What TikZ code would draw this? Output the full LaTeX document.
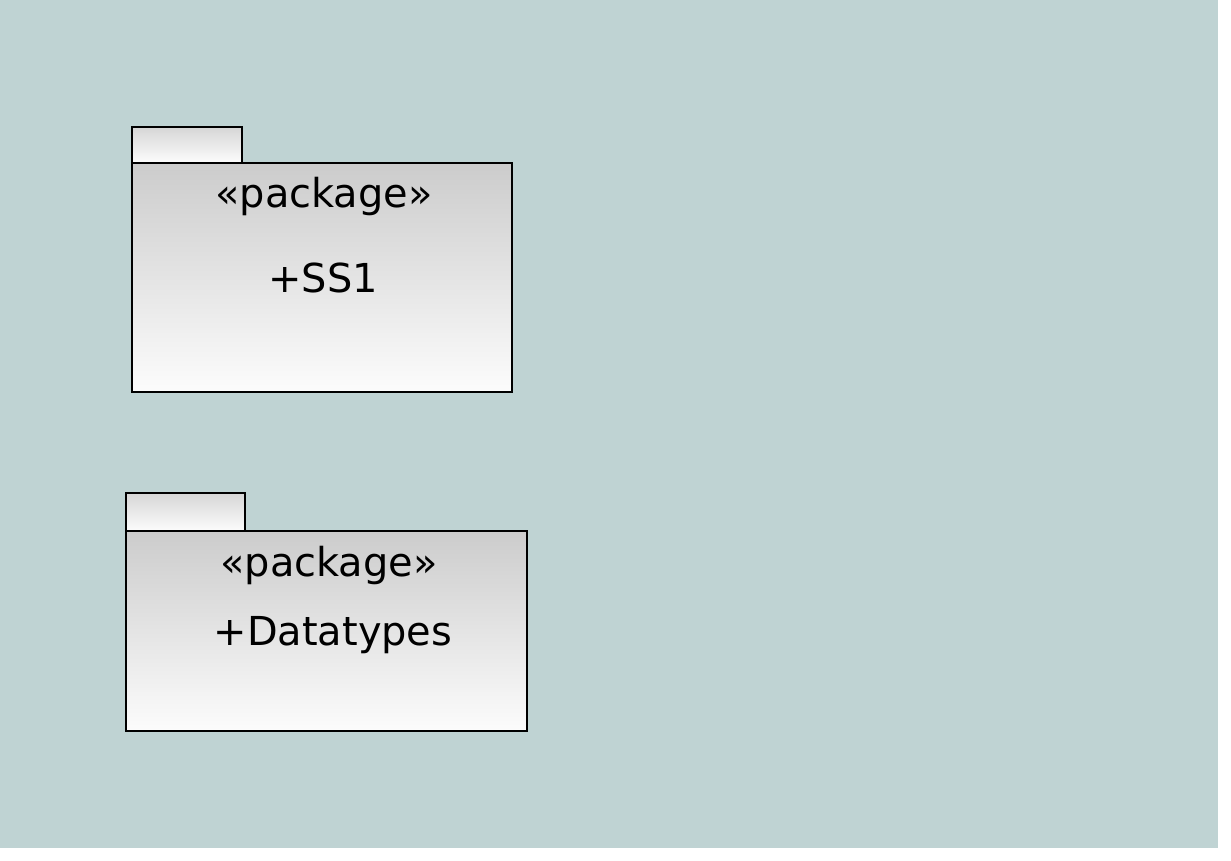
\documentclass[tikz,border=0pt]{standalone}
\usepackage{fontspec}
\setmainfont{DejaVu Sans}
\definecolor{canvas}{RGB}{191,211,211}
\definecolor{pkgtop}{RGB}{204,204,204}
\definecolor{pkgbot}{RGB}{252,252,252}
\tikzset{
  pkgbody/.style={draw=black,line width=1.1pt,anchor=north west,inner sep=0pt,
    top color=pkgtop,bottom color=pkgbot},
  pkgtab/.style={draw=black,line width=1.1pt,anchor=north west,inner sep=0pt,
    top color=pkgtop!80!white,bottom color=pkgbot},
  pkgtext/.style={anchor=base,inner sep=0pt,font=\fontsize{22.7}{27}\selectfont}
}
\begin{document}
\begin{tikzpicture}[x=0.02cm,y=-0.02cm]
            \useasboundingbox (0,0) rectangle (1231,861);
            \fill[canvas] (0,0) rectangle (1218,848);
            % package SS1
            \node[pkgtab,minimum width=2.2cm,minimum height=0.72cm] (tabA) at (131,126) {};
            \node[pkgbody,minimum width=7.6cm,minimum height=4.58cm] (bodyA) at (131,162) {};
            \node[pkgtext] (stereoA) at (324,208) {«package»};
            \node[pkgtext] (nameA) at (323,293) {+SS1};
            % package Datatypes
            \node[pkgtab,minimum width=2.38cm,minimum height=0.76cm] (tabB) at (125,492) {};
            \node[pkgbody,minimum width=8.02cm,minimum height=4.0cm] (bodyB) at (125,530) {};
            \node[pkgtext] (stereoB) at (329,576) {«package»};
            \node[pkgtext] (nameB) at (333,645) {+Datatypes};
\end{tikzpicture}
\end{document}
